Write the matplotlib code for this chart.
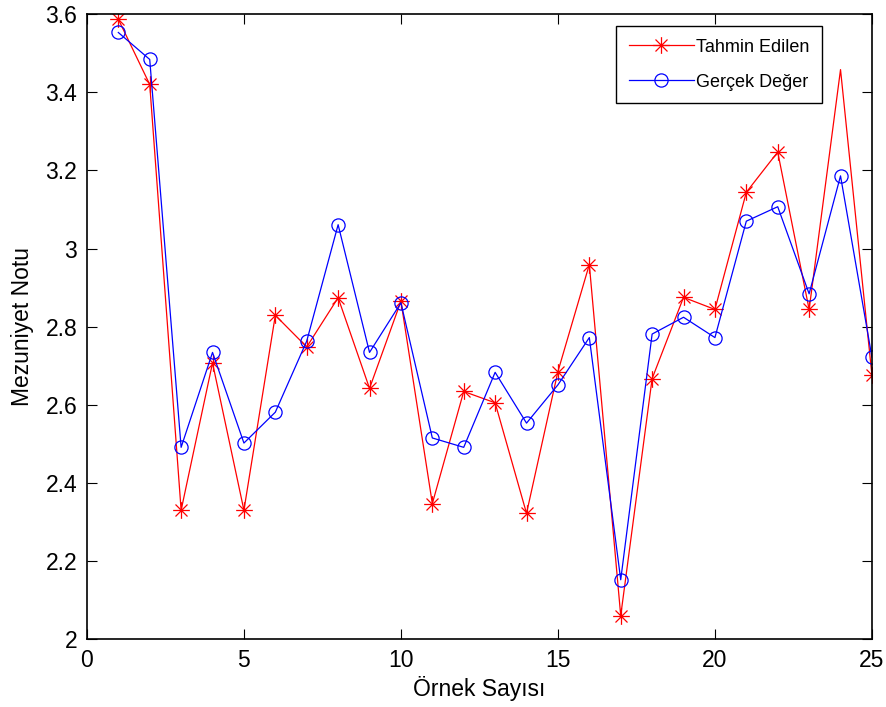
import numpy as np
import matplotlib
matplotlib.use("Agg")
import matplotlib.pyplot as plt
from matplotlib.path import Path

plt.rcParams['font.family'] = ['Liberation Sans', 'DejaVu Sans']

# sample numbers and values
ornek = np.arange(1, 26)
tahmin = [3.587, 3.42, 2.33, 2.707, 2.33, 2.829, 2.748, 2.874, 2.642, 2.865,
          2.347, 2.634, 2.605, 2.322, 2.685, 2.959, 2.06, 2.667, 2.875, 2.844,
          3.144, 3.247, 2.844, 3.458, 2.676]
gercek = [3.553, 3.484, 2.491, 2.734, 2.502, 2.581, 2.763, 3.061, 2.734, 2.861,
          2.515, 2.491, 2.683, 2.553, 2.651, 2.772, 2.152, 2.781, 2.824, 2.772,
          3.07, 3.107, 2.884, 3.186, 2.722]

# matlab style asterisk: + and x on top of each other
d = 0.72
asterisk = Path([(0, -1), (0, 1), (-1, 0), (1, 0), (-d, -d), (d, d), (-d, d), (d, -d)],
                [Path.MOVETO, Path.LINETO] * 4)

fig = plt.figure(figsize=(8.87, 7.07), dpi=100)
ax = fig.add_axes([0.098, 0.096, 0.885, 0.884])

# the star on sample 24 is missing in the original
star_idx = [i for i in range(len(ornek)) if i != 23]
ax.plot(ornek, tahmin, color='#ff0000', lw=0.9, marker=asterisk, markersize=12,
        markerfacecolor='none', markeredgewidth=0.9, markevery=star_idx,
        label='Tahmin Edilen')
ax.plot(ornek, gercek, color='#0000ff', lw=0.9, marker='o', markersize=9.5,
        markerfacecolor='none', markeredgewidth=0.9, label='Gerçek Değer')

ax.set_xlim(0, 25)
ax.set_ylim(2, 3.6)
ax.set_xticks([0, 5, 10, 15, 20, 25])
ax.set_yticks([2, 2.2, 2.4, 2.6, 2.8, 3, 3.2, 3.4, 3.6])
ax.set_yticklabels(['2', '2.2', '2.4', '2.6', '2.8', '3', '3.2', '3.4', '3.6'])
ax.tick_params(direction='in', top=True, right=True, labelsize=16.5, length=7,
               width=0.8, pad=7)
for s in ax.spines.values():
    s.set_linewidth(1.2)

ax.set_xlabel('Örnek Sayısı', fontsize=16.5, labelpad=3)
ax.set_ylabel('Mezuniyet Notu', fontsize=16.5, labelpad=8)

leg = ax.legend(loc='upper right', bbox_to_anchor=(0.936, 0.981), borderaxespad=0,
                fontsize=13, fancybox=False, framealpha=1, edgecolor='black',
                handlelength=3.6, borderpad=0.7, labelspacing=1.0, handletextpad=0.1)
leg.get_frame().set_linewidth(1.0)

fig.savefig('out.png', dpi=100)
